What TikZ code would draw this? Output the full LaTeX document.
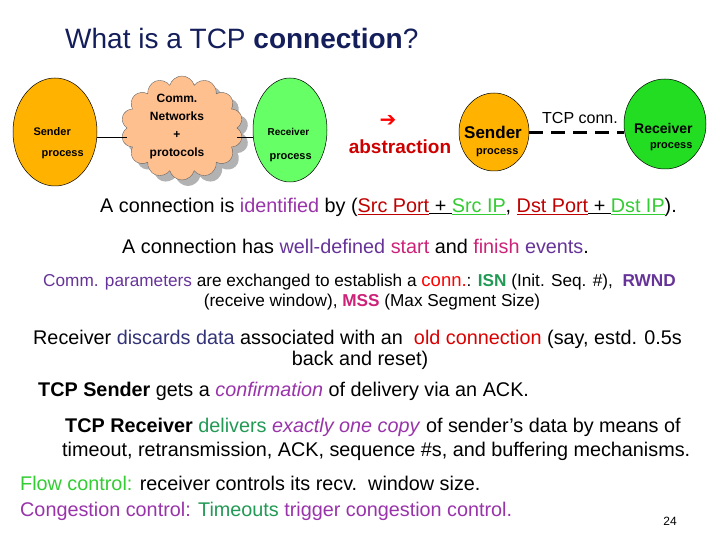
\documentclass[tikz,border=0pt]{standalone}
\usepackage{fontspec}
\setmainfont{Liberation Sans}
\newfontfamily\dejavu{DejaVu Sans}
\usetikzlibrary{shapes.symbols,shapes.geometric}
\definecolor{dred}{HTML}{C00000}
\definecolor{pur}{HTML}{9933AA}
\definecolor{dpur}{HTML}{663399}
\definecolor{mag}{HTML}{CC2277}
\definecolor{gr}{HTML}{33CC33}
\definecolor{dgr}{HTML}{229955}
\definecolor{navy}{HTML}{333377}
\definecolor{orng}{HTML}{FFB300}
\definecolor{lgr}{HTML}{66FF66}
\definecolor{ggr}{HTML}{22DD22}
\definecolor{peach}{HTML}{FFC090}
\tikzset{
 txt/.style={anchor=west,inner sep=0pt,font=\fontsize{19.8}{22}\selectfont},
 ell/.style={ellipse,draw=black,line width=0.5pt,inner sep=0pt},
 small/.style={font=\fontsize{11}{13}\selectfont\bfseries}
}
\begin{document}
\begin{tikzpicture}[x=1pt,y=-1pt]
\useasboundingbox (0,0) rectangle (720,540);
\node[anchor=west,inner sep=0pt,font=\fontsize{28}{30}\selectfont,text={rgb,255:red,20;green,30;blue,90}] (title) at (65,38) {What is a TCP \textbf{connection}?};
% left diagram
\node[ell,fill=orng,minimum width=84,minimum height=108] (s1) at (55,132) {};
\node[small,anchor=west] (s1a) at (30,132) {Sender};
\node[small,anchor=west] (s1b) at (38,155) {process};
\node[cloud,cloud puffs=14,aspect=1.2,fill=gray!60,minimum width=122,minimum height=104] (cs) at (188,134) {};
\node[cloud,cloud puffs=14,aspect=1.2,draw=black!60,fill=peach,minimum width=122,minimum height=104] (cl) at (182,128) {};
\node[small,align=center,font=\fontsize{12}{18}\selectfont\bfseries] (clt) at (177,127) {Comm.\\Networks\\+\\protocols};
\node[ell,fill=lgr,minimum width=74,minimum height=104] (r1) at (290,130) {};
\node[small,anchor=west,font=\fontsize{10}{12}\selectfont\bfseries] (r1a) at (264,132) {Receiver};
\node[small,anchor=west] (r1b) at (266,158) {process};
\draw (s1.east |- 0,137) -- (cl.west |- 0,137);
\draw (cl.east |- 0,137) -- (r1.west |- 0,137);
% arrow
\node[text=red,font=\fontsize{20}{20}\selectfont\dejavu] (arr) at (388,121) {➔};
\node[text=dred!80!red,font=\fontsize{19}{22}\selectfont\bfseries] (abs) at (400,147) {abstraction};
% right diagram
\node[ell,fill=orng,minimum width=70,minimum height=78] (s2) at (494,132) {};
\node[anchor=west,inner sep=0pt,font=\fontsize{17}{20}\selectfont\bfseries] (s2a) at (464,132) {Sender};
\node[small,anchor=west,inner sep=0pt] (s2b) at (476,153) {process};
\node[ell,fill=ggr,minimum width=82,minimum height=90] (r2) at (665,124) {};
\node[anchor=west,inner sep=0pt,font=\fontsize{14}{17}\selectfont\bfseries] (r2a) at (634,128) {Receiver};
\node[small,anchor=west,inner sep=0pt] (r2b) at (650,147) {process};
\draw[line width=3pt,dash pattern=on 14pt off 8pt] (s2.east |- 0,133) -- (r2.west |- 0,133);
\node[font=\fontsize{16}{18}\selectfont] (tc) at (580,118) {TCP conn.};
% text lines
\node[txt] (l1) at (100,207) {A connection is \textcolor{pur}{identified} by (\textcolor{dred}{\underline{Src Port}}\underline{ + }\textcolor{gr}{\underline{Src IP}}, \textcolor{dred}{\underline{Dst Port}}\underline{ + }\textcolor{gr}{\underline{Dst IP}}).};
\node[txt] (l2) at (122,246) {A connection has \textcolor{dpur}{well-defined} \textcolor{mag}{start} and \textcolor{mag}{finish} \textcolor{dpur}{events}.};
\node[txt,font=\fontsize{17.2}{20}\selectfont] (l3) at (43,282) {\textcolor{dpur}{Comm. parameters} are exchanged to establish a \textcolor{red}{\fontsize{18.5}{20}\selectfont conn.}: \textcolor{dgr}{\textbf{ISN}} (Init. Seq. \#),\ \ \textcolor{dpur}{\textbf{RWND}}};
\node[font=\fontsize{17.2}{20}\selectfont,inner sep=0pt] (l3b) at (372,302) {(receive window), \textcolor{mag}{\textbf{MSS}} (Max Segment Size)};
\node[txt] (l4) at (33,339) {Receiver \textcolor{navy}{discards data} associated with an\ \ \textcolor{red!85!black}{old connection} (say, estd. 0.5s};
\node[font=\fontsize{19.8}{22}\selectfont,inner sep=0pt] (l4b) at (360,360) {back and reset)};
\node[txt] (l5) at (38,391) {\textbf{TCP Sender} gets a \textcolor{pur}{\textit{confirmation}} of delivery via an ACK.};
\node[txt] (l6) at (65,427) {\textbf{TCP Receiver} \textcolor{dgr}{delivers} \textcolor{pur}{\textit{exactly one copy}} of sender’s data by means of};
\node[txt] (l6b) at (62,451) {timeout, retransmission, ACK, sequence \#s, and buffering mechanisms.};
\node[txt] (l7) at (20,483) {\textcolor{gr}{Flow control:} receiver controls its recv.\ \ window size.};
\node[txt] (l8) at (20,511) {\textcolor{pur}{Congestion control:} \textcolor{dgr}{Timeouts} \textcolor{pur}{trigger congestion control.}};
\node[font=\fontsize{12}{13}\selectfont\rmfamily,inner sep=0pt] (pg) at (670,521) {24};
\end{tikzpicture}
\end{document}
